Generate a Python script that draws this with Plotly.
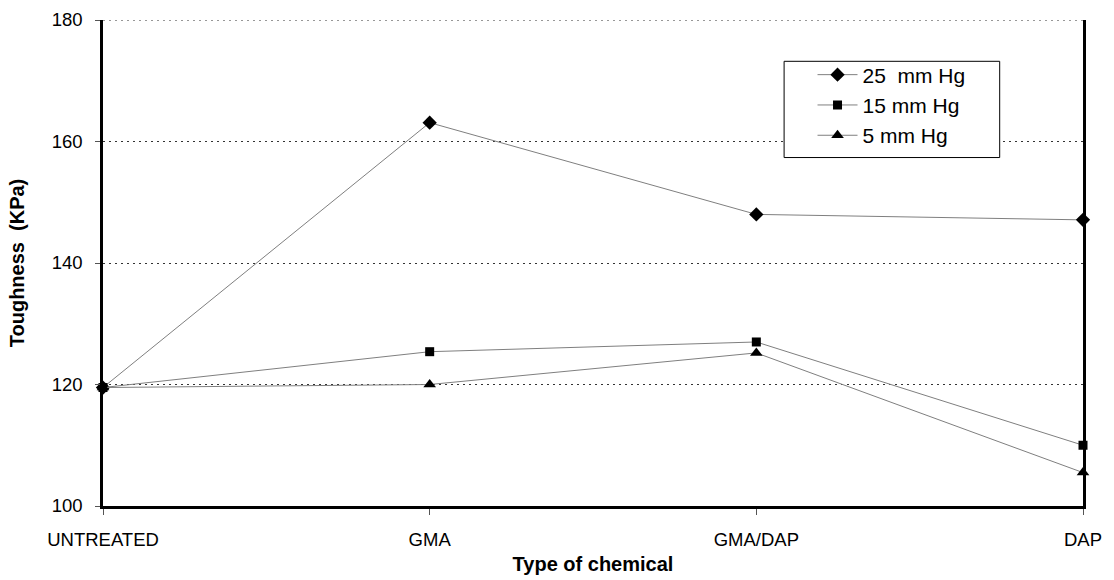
import plotly.graph_objects as go

# Treatment categories along the x axis
chemicals = ["UNTREATED", "GMA", "GMA/DAP", "DAP"]

# Toughness (KPa) for each vacuum level
tough_25 = [119.5, 163.1, 148.0, 147.1]
tough_15 = [119.5, 125.4, 127.0, 110.0]
tough_5 = [119.5, 120.0, 125.2, 105.5]

y_ticks = [100, 120, 140, 160, 180]

series = [
    ("25  mm Hg", tough_25, "diamond", 11),
    ("15 mm Hg", tough_15, "square", 9),
    ("5 mm Hg", tough_5, "triangle-up", 11),
]

xpos = list(range(len(chemicals)))

fig = go.Figure()
for name, vals, sym, size in series:
    fig.add_trace(go.Scatter(
        x=xpos, y=vals, name=name, mode="lines+markers",
        line=dict(color="#7f7f7f", width=1),
        marker=dict(symbol=sym, size=size, color="black", line=dict(width=0)),
        cliponaxis=False,
    ))

font_family = "Liberation Sans, Arial, sans-serif"
grid_dash = "2px,4px"

# dotted line along the top of the plot, same style as the gridlines
fig.add_shape(type="line", xref="paper", yref="y", x0=0, x1=1,
              y0=y_ticks[-1], y1=y_ticks[-1],
              line=dict(color="#333333", width=1, dash=grid_dash), layer="above")

# frame around the legend entries
fig.add_shape(type="rect", xref="paper", yref="paper",
              x0=0.695, x1=0.915, y0=0.717, y1=0.915,
              line=dict(color="black", width=1), fillcolor="white", layer="above")

fig.update_layout(
    width=1114, height=580,
    margin=dict(l=103, r=31, t=20, b=74),
    paper_bgcolor="white", plot_bgcolor="white",
    font=dict(family=font_family, size=18.5, color="black"),
    showlegend=True,
    legend=dict(
        x=0.724, y=0.929, xanchor="left", yanchor="top",
        borderwidth=0, bgcolor="rgba(0,0,0,0)",
        font=dict(size=21, family=font_family),
        tracegroupgap=0, itemwidth=40,
    ),
    xaxis=dict(
        range=[0, 3], tickmode="array", tickvals=xpos, ticktext=chemicals,
        showgrid=False, zeroline=False, automargin=False,
        showline=True, linecolor="black", linewidth=2.5,
        ticks="outside", ticklen=6, tickcolor="#555555", tickwidth=1,
        tickfont=dict(size=18.5), ticklabelstandoff=9,
        title=dict(text="<b>Type of chemical</b>", font=dict(size=20), standoff=9),
    ),
    yaxis=dict(
        range=[100, 180], tickvals=y_ticks,
        showgrid=True, gridcolor="#333333", griddash=grid_dash, gridwidth=1,
        zeroline=False, automargin=False,
        showline=True, mirror=True, linecolor="black", linewidth=2.5,
        ticks="outside", ticklen=5, tickcolor="#555555", tickwidth=1,
        tickfont=dict(size=18.5), ticklabelstandoff=9,
        title=dict(text="<b>Toughness  (KPa)</b>", font=dict(size=20), standoff=22),
    ),
)

fig.write_html("out.html")
